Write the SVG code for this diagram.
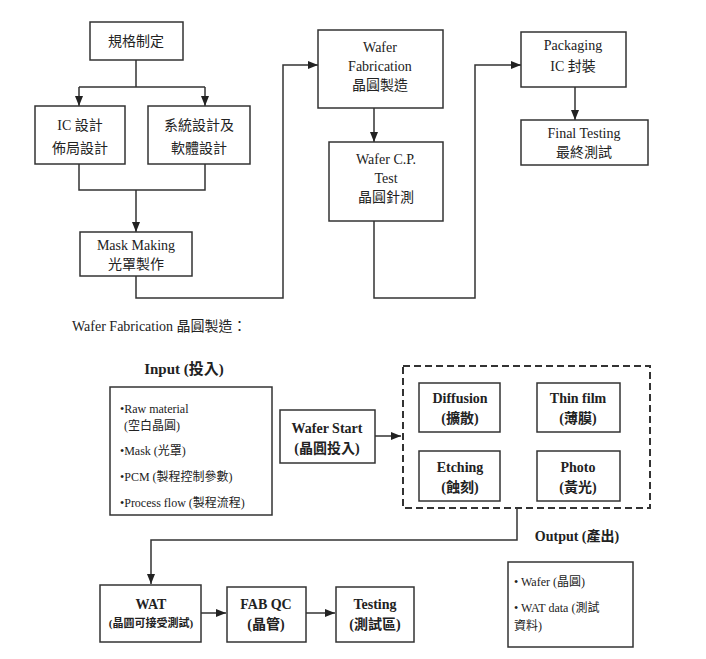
<svg xmlns="http://www.w3.org/2000/svg" width="706" height="659" viewBox="0 0 706 659">
<defs>
<marker id="a" viewBox="0 0 10 10" refX="10" refY="5" markerWidth="7" markerHeight="7" orient="auto"><path d="M0,1 L10,5 L0,9 Z" fill="#222"/></marker>
<style>
rect{fill:#fff;stroke:#333;stroke-width:1.5}
.c path{fill:none;stroke:#333;stroke-width:1.5}
text{font-family:"Liberation Serif","Noto Sans CJK TC",serif;font-size:14px;fill:#222;text-anchor:middle}
.b{font-weight:bold}
.l{text-anchor:start;font-size:12px}
</style>
</defs>
<rect width="706" height="659" style="fill:#fff;stroke:none"/>
<g class="c">
<path d="M136,60 V87 M79,87 H205 M79,87 V106" marker-end="url(#a)"/>
<path d="M205,87 V106" marker-end="url(#a)"/>
<path d="M79,164 V190 H205 V164 M136,190 V232" marker-end="url(#a)"/>
<path d="M136,276 V298 H283 V65 H318" marker-end="url(#a)"/>
<path d="M374,108 V142" marker-end="url(#a)"/>
<path d="M374,221 V298 H475 V65 H521" marker-end="url(#a)"/>
<path d="M575,87 V120" marker-end="url(#a)"/>
<path d="M375,436 H401" marker-end="url(#a)"/>
<path d="M517,508 V540 H151 V584" marker-end="url(#a)"/>
<path d="M201,613 H226" marker-end="url(#a)"/>
<path d="M306,613 H335" marker-end="url(#a)"/>
</g>
<g id="n1"><rect x="90" y="22" width="93" height="38"/><text x="136" y="46">規格制定</text></g>
<g id="n2"><rect x="35" y="106" width="90" height="58"/><text x="80" y="130">IC 設計</text><text x="80" y="153">佈局設計</text></g>
<g id="n3"><rect x="148" y="106" width="102" height="58"/><text x="199" y="130">系統設計及</text><text x="199" y="153">軟體設計</text></g>
<g id="n4"><rect x="80" y="232" width="112" height="44"/><text x="136" y="250">Mask Making</text><text x="136" y="269">光罩製作</text></g>
<g id="n5"><rect x="318" y="30" width="125" height="78"/><text x="380" y="52">Wafer</text><text x="380" y="71">Fabrication</text><text x="380" y="90">晶圓製造</text></g>
<g id="n6"><rect x="329" y="142" width="114" height="79"/><text x="386" y="164">Wafer C.P.</text><text x="386" y="183">Test</text><text x="386" y="202">晶圓針測</text></g>
<g id="n7"><rect x="521" y="32" width="105" height="55"/><text x="573" y="50">Packaging</text><text x="573" y="71">IC  封裝</text></g>
<g id="n8"><rect x="521" y="120" width="127" height="45"/><text x="584" y="138">Final Testing</text><text x="584" y="157">最終測試</text></g>
<text x="72" y="331" style="text-anchor:start">Wafer Fabrication 晶圓製造：</text>
<text x="184" y="374" class="b" style="font-size:15px">Input (投入)</text>
<g id="in"><rect x="110" y="387" width="162" height="128"/>
<text class="l" x="120" y="413">•Raw material</text><text class="l" x="124" y="430">(空白晶圓)</text>
<text class="l" x="120" y="455">•Mask (光罩)</text>
<text class="l" x="120" y="481">•PCM (製程控制參數)</text>
<text class="l" x="120" y="507">•Process flow (製程流程)</text></g>
<g id="ws"><rect x="280" y="410" width="95" height="53"/><text x="327" y="433" class="b">Wafer Start</text><text x="327" y="453" class="b">(晶圓投入)</text></g>
<g id="fab"><rect x="403" y="366" width="247" height="142" style="stroke-dasharray:7,4;stroke-width:2"/>
<rect x="419" y="383" width="81" height="49"/><text x="460" y="403" class="b">Diffusion</text><text x="460" y="423" class="b">(擴散)</text>
<rect x="537" y="383" width="83" height="49"/><text x="578" y="403" class="b">Thin film</text><text x="578" y="423" class="b">(薄膜)</text>
<rect x="419" y="451" width="81" height="50"/><text x="460" y="472" class="b">Etching</text><text x="460" y="492" class="b">(蝕刻)</text>
<rect x="537" y="451" width="83" height="50"/><text x="578" y="472" class="b">Photo</text><text x="578" y="492" class="b">(黃光)</text></g>
<text x="577" y="541" class="b">Output (產出)</text>
<g id="out"><rect x="508" y="562" width="125" height="85"/>
<text class="l" x="514" y="586">•  Wafer (晶圓)</text>
<text class="l" x="514" y="612">•  WAT data (測試</text><text class="l" x="514" y="630">資料)</text></g>
<g id="wat"><rect x="100" y="585" width="101" height="57"/><text x="151" y="609" class="b">WAT</text><text x="151" y="627" class="b" style="font-size:11px">(晶圓可接受測試)</text></g>
<g id="qc"><rect x="227" y="587" width="79" height="55"/><text x="266" y="609" class="b">FAB QC</text><text x="266" y="629" class="b">(晶管)</text></g>
<g id="ts"><rect x="336" y="587" width="78" height="55"/><text x="375" y="609" class="b">Testing</text><text x="375" y="629" class="b">(測試區)</text></g>
</svg>
